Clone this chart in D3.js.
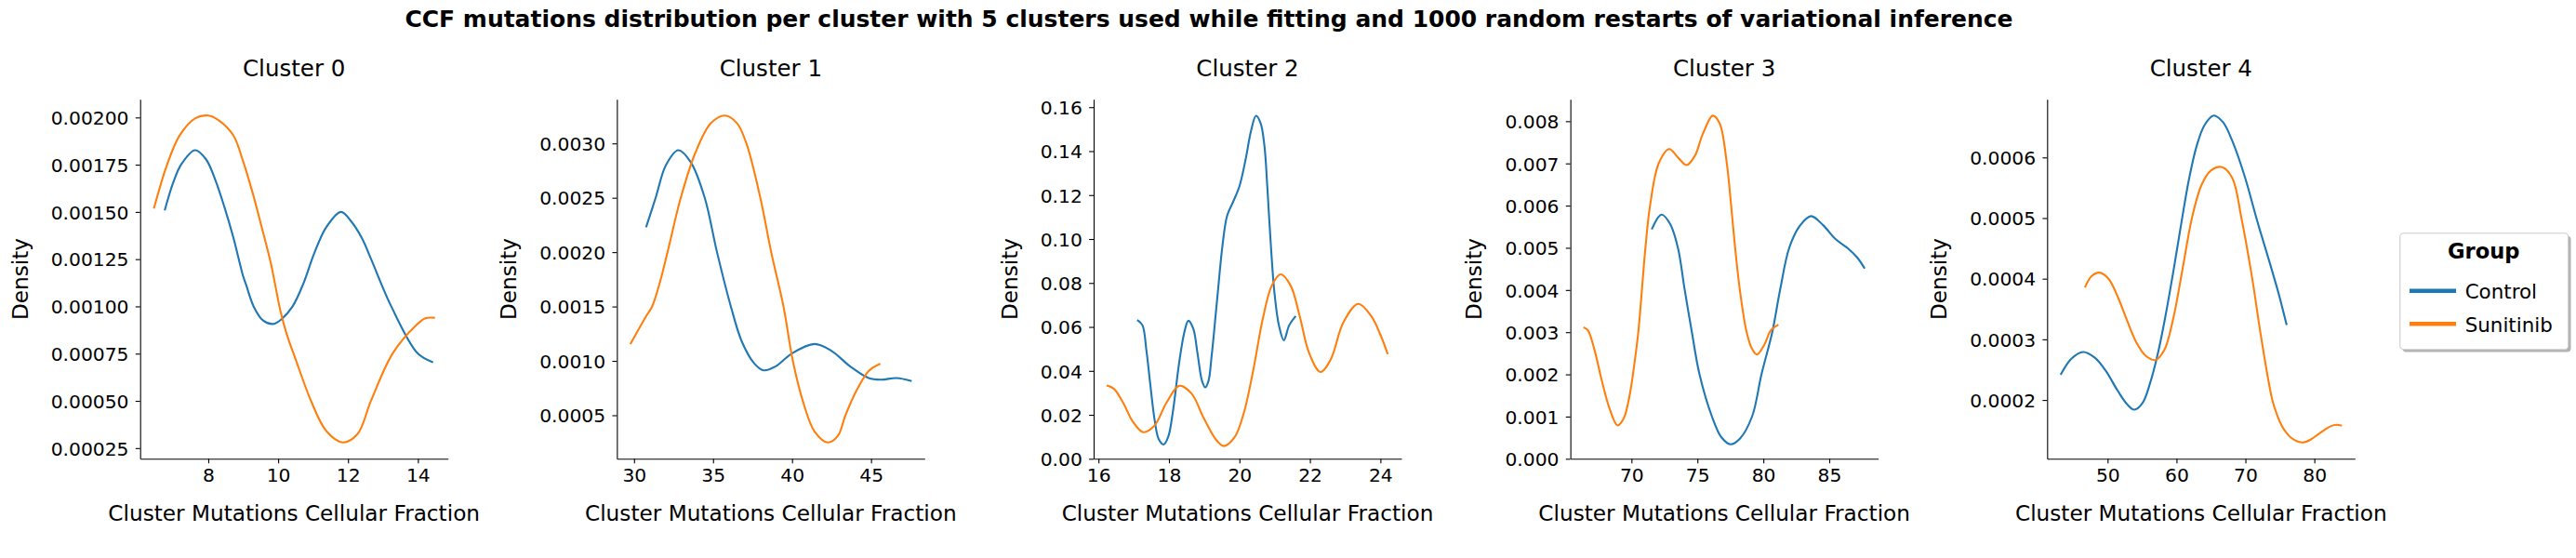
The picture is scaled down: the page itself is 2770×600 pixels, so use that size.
<!DOCTYPE html>
<html>
<head>
<meta charset="utf-8">
<script src="https://cdn.jsdelivr.net/npm/d3@7/dist/d3.min.js"></script>
<style>
  body { margin: 0; background: #ffffff; }
  svg { display: block; }
</style>
</head>
<body>
<svg id="chart" width="2770" height="600"></svg>
<script>
// ---------------- DATA ----------------
const suptitle = "CCF mutations distribution per cluster with 5 clusters used while fitting and 1000 random restarts of variational inference";
const clusterNames = ["Cluster 0", "Cluster 1", "Cluster 2", "Cluster 3", "Cluster 4"];
const groups = ["Control", "Sunitinib"];
const groupColors = ["#1f77b4", "#ff7f0e"];
const xLabel = "Cluster Mutations Cellular Fraction";
const yLabel = "Density";
const legendTitle = "Group";

// KDE curves: [CCF, density]
const cluster0Control = [[6.76,0.001513],[7.0,0.001657],[7.22,0.00175],[7.62,0.001827],[7.93,0.00178],[8.19,0.001675],[8.46,0.001527],[8.72,0.001363],[8.99,0.001165],[9.08,0.001116],[9.30,0.000999],[9.57,0.000925],[9.86,0.000907],[10.10,0.000933],[10.41,0.000999],[10.72,0.00112],[11.03,0.00128],[11.38,0.00142],[11.80,0.0015],[12.09,0.00145],[12.40,0.00136],[12.66,0.00125],[13.24,0.000999],[13.99,0.000752],[14.41,0.000706]];
const cluster0Sunitinib = [[6.45,0.001523],[6.82,0.00175],[7.18,0.001905],[7.62,0.001995],[8.0,0.00201],[8.30,0.001985],[8.72,0.001904],[8.99,0.001772],[9.26,0.001607],[9.52,0.001426],[9.79,0.001229],[9.92,0.00111],[10.06,0.00098],[10.25,0.00085],[10.50,0.00072],[10.94,0.0005],[11.38,0.00034],[11.85,0.00028],[12.27,0.000324],[12.66,0.000502],[13.28,0.000752],[13.95,0.0009],[14.21,0.000937],[14.46,0.00094]];

const cluster1Control = [[30.78,0.002237],[31.37,0.002501],[32.02,0.0028],[32.80,0.002937],[33.58,0.002829],[34.47,0.002501],[35.25,0.002],[36.13,0.001499],[36.82,0.001178],[37.60,0.000978],[38.19,0.000913],[38.97,0.00095],[39.95,0.001064],[41.42,0.001155],[42.50,0.001092],[43.67,0.00095],[44.85,0.000842],[45.63,0.000827],[46.61,0.000842],[47.51,0.000816]];
const cluster1Sunitinib = [[29.80,0.001163],[30.74,0.001405],[31.14,0.001499],[31.63,0.001719],[32.12,0.002],[32.96,0.002501],[33.88,0.002914],[34.86,0.003185],[35.74,0.003256],[36.52,0.003185],[37.11,0.0030],[37.99,0.002501],[38.68,0.002],[39.46,0.001499],[40.05,0.001001],[40.73,0.000608],[41.42,0.000352],[42.26,0.00025],[42.89,0.000309],[43.38,0.0005],[44.06,0.000722],[44.85,0.000907],[45.53,0.00097]];

const cluster2Control = [[17.12,0.0629],[17.25,0.0607],[17.36,0.0494],[17.48,0.0325],[17.60,0.017],[17.71,0.0089],[17.85,0.0065],[17.98,0.010],[18.11,0.0212],[18.29,0.0438],[18.44,0.0578],[18.55,0.0628],[18.69,0.0592],[18.81,0.048],[18.94,0.0353],[19.03,0.0325],[19.12,0.0353],[19.21,0.0466],[19.38,0.0747],[19.52,0.0972],[19.65,0.1106],[19.82,0.1169],[20.0,0.124],[20.18,0.1366],[20.33,0.1493],[20.47,0.1561],[20.60,0.1528],[20.71,0.1423],[20.79,0.124],[20.88,0.1001],[20.99,0.0761],[21.12,0.0607],[21.26,0.0539],[21.41,0.0607],[21.58,0.0646]];
const cluster2Sunitinib = [[16.26,0.0332],[16.44,0.0318],[16.70,0.0255],[16.97,0.017],[17.27,0.0121],[17.58,0.0149],[17.93,0.0255],[18.29,0.0332],[18.64,0.0297],[18.99,0.0184],[19.34,0.0086],[19.56,0.0058],[19.87,0.010],[20.13,0.0212],[20.40,0.041],[20.66,0.0635],[20.92,0.0789],[21.17,0.0839],[21.45,0.0789],[21.71,0.0649],[21.98,0.048],[22.30,0.0395],[22.59,0.0452],[22.95,0.0621],[23.37,0.0705],[23.74,0.0649],[24.00,0.0564],[24.20,0.048]];

const cluster3Control = [[71.57,0.005458],[72.28,0.005788],[72.93,0.005568],[73.52,0.005004],[74.04,0.004],[74.58,0.003004],[75.16,0.002],[76.10,0.001004],[76.81,0.000513],[77.51,0.000344],[78.22,0.000476],[79.15,0.001004],[79.86,0.002],[80.68,0.003004],[81.27,0.004],[81.97,0.005004],[82.79,0.005531],[83.62,0.005751],[84.55,0.005531],[85.49,0.005201],[86.43,0.004982],[87.14,0.004762],[87.65,0.004527]];
const cluster3Sunitinib = [[66.43,0.003106],[66.71,0.00304],[67.18,0.0026],[67.77,0.001832],[68.36,0.001172],[68.94,0.000791],[69.41,0.000952],[69.88,0.001538],[70.23,0.002271],[70.52,0.003004],[71.06,0.005004],[71.41,0.006],[72.07,0.007004],[72.86,0.00734],[73.52,0.007143],[74.18,0.00696],[74.81,0.00718],[75.40,0.007692],[76.17,0.008132],[76.69,0.007949],[77.23,0.007004],[77.56,0.006],[77.86,0.005004],[78.22,0.004],[78.73,0.003004],[79.15,0.0026],[79.51,0.002469],[80.09,0.002711],[80.56,0.00304],[81.08,0.003165]];

const cluster4Control = [[43.26,0.000243],[44.75,0.000268],[46.45,0.000279],[48.11,0.00027],[49.69,0.000249],[51.48,0.000215],[52.83,0.000193],[53.86,0.000184],[55.07,0.000195],[56.20,0.000229],[57.32,0.000278],[58.44,0.000341],[59.56,0.000413],[60.69,0.000491],[61.81,0.000564],[62.93,0.000619],[64.05,0.000653],[65.40,0.000669],[66.75,0.000658],[68.10,0.000627],[69.89,0.000569],[71.69,0.000496],[73.48,0.000428],[74.83,0.000375],[75.95,0.000325]];
const cluster4Sunitinib = [[46.77,0.000387],[47.67,0.000404],[48.79,0.00041],[50.13,0.0004],[51.48,0.00037],[52.83,0.000331],[54.18,0.000295],[55.52,0.000273],[56.96,0.000266],[58.22,0.000282],[59.56,0.000336],[60.91,0.000418],[62.26,0.000501],[63.61,0.000554],[64.95,0.000578],[66.61,0.000584],[68.10,0.000566],[69.42,0.0005],[70.99,0.0004],[72.33,0.0003],[73.90,0.0002],[74.60,0.000175],[75.25,0.000158],[76.0,0.000145],[76.59,0.000138],[77.50,0.000132],[78.39,0.00013],[79.50,0.000135],[80.63,0.000144],[81.50,0.000151],[82.42,0.000157],[83.20,0.000159],[83.86,0.000158]];

// tick values and labels
const xTicks0 = [8, 10, 12, 14];
const xTicks1 = [30, 35, 40, 45];
const xTicks2 = [16, 18, 20, 22, 24];
const xTicks3 = [70, 75, 80, 85];
const xTicks4 = [50, 60, 70, 80];
const yTicks0 = [0.00025, 0.0005, 0.00075, 0.001, 0.00125, 0.0015, 0.00175, 0.002];
const yTickLabels0 = ["0.00025", "0.00050", "0.00075", "0.00100", "0.00125", "0.00150", "0.00175", "0.00200"];
const yTicks1 = [0.0005, 0.001, 0.0015, 0.002, 0.0025, 0.003];
const yTickLabels1 = ["0.0005", "0.0010", "0.0015", "0.0020", "0.0025", "0.0030"];
const yTicks2 = [0, 0.02, 0.04, 0.06, 0.08, 0.10, 0.12, 0.14, 0.16];
const yTickLabels2 = ["0.00", "0.02", "0.04", "0.06", "0.08", "0.10", "0.12", "0.14", "0.16"];
const yTicks3 = [0, 0.001, 0.002, 0.003, 0.004, 0.005, 0.006, 0.007, 0.008];
const yTickLabels3 = ["0.000", "0.001", "0.002", "0.003", "0.004", "0.005", "0.006", "0.007", "0.008"];
const yTicks4 = [0.0002, 0.0003, 0.0004, 0.0005, 0.0006];
const yTickLabels4 = ["0.0002", "0.0003", "0.0004", "0.0005", "0.0006"];

// ---------------- LAYOUT ----------------
const FONT = "'DejaVu Sans', Verdana, sans-serif";
const panelLeft0 = 150.7, panelStep = 512.65, panelW = 331;
const panelTop = 106.7, panelH = 386.6;
const tickFont = 20.3, labelFont = 23.2, titleFont = 24.5;

const panels = [
  { name: clusterNames[0], series: [cluster0Control, cluster0Sunitinib], xt: xTicks0, yt: yTicks0, yl: yTickLabels0 },
  { name: clusterNames[1], series: [cluster1Control, cluster1Sunitinib], xt: xTicks1, yt: yTicks1, yl: yTickLabels1 },
  { name: clusterNames[2], series: [cluster2Control, cluster2Sunitinib], xt: xTicks2, yt: yTicks2, yl: yTickLabels2 },
  { name: clusterNames[3], series: [cluster3Control, cluster3Sunitinib], xt: xTicks3, yt: yTicks3, yl: yTickLabels3 },
  { name: clusterNames[4], series: [cluster4Control, cluster4Sunitinib], xt: xTicks4, yt: yTicks4, yl: yTickLabels4 }
];

const svg = d3.select("#chart");
svg.append("rect").attr("width", 2770).attr("height", 600).attr("fill", "#fff");

// suptitle, scaled to the measured width
const sup = svg.append("text")
  .attr("x", 1300).attr("y", 29)
  .attr("text-anchor", "middle")
  .attr("font-family", FONT).attr("font-weight", "bold")
  .attr("font-size", 22).attr("fill", "#000")
  .text(suptitle);
const supLen = sup.node().getComputedTextLength();
sup.attr("font-size", 22 * 1730 / supLen);

panels.forEach((p, i) => {
  const left = panelLeft0 + panelStep * i;
  const all = p.series.flat();
  const [xmin, xmax] = d3.extent(all, d => d[0]);
  const [ymin, ymax] = d3.extent(all, d => d[1]);
  const xpad = (xmax - xmin) * 0.05, ypad = (ymax - ymin) * 0.05;
  const x = d3.scaleLinear().domain([xmin - xpad, xmax + xpad]).range([left, left + panelW]);
  const y = d3.scaleLinear().domain([Math.max(0, ymin - ypad), ymax + ypad]).range([panelTop + panelH, panelTop]);

  const g = svg.append("g");

  // curves
  const line = d3.line().x(d => x(d[0])).y(d => y(d[1])).curve(d3.curveCatmullRom.alpha(0.5));
  p.series.forEach((s, k) => {
    g.append("path").datum(s)
      .attr("d", line)
      .attr("fill", "none")
      .attr("stroke", groupColors[k])
      .attr("stroke-width", 2.1)
      .attr("stroke-linejoin", "round")
      .attr("stroke-linecap", "square");
  });

  // x axis
  const gx = g.append("g").attr("transform", `translate(0,${panelTop + panelH})`)
    .call(d3.axisBottom(x).tickValues(p.xt).tickFormat(d3.format("d")).tickSize(4.9).tickSizeOuter(0));
  gx.selectAll("text").attr("y", 24.5).attr("dy", null)
    .attr("font-family", FONT).attr("font-size", tickFont).attr("fill", "#000");

  // y axis
  const gy = g.append("g").attr("transform", `translate(${left},0)`)
    .call(d3.axisLeft(y).tickValues(p.yt).tickFormat((d, j) => p.yl[j]).tickSize(4.9).tickSizeOuter(0));
  gy.selectAll("text").attr("x", -12.2).attr("dy", null)
    .attr("transform", "translate(0,7.3)")
    .attr("font-family", FONT).attr("font-size", tickFont).attr("fill", "#000");

  [gx, gy].forEach(a => {
    a.select(".domain").attr("stroke", "#000").attr("stroke-width", 1.1);
    a.selectAll(".tick line").attr("stroke", "#000").attr("stroke-width", 1.1);
    a.attr("font-family", FONT);
  });

  // y label placed relative to the widest tick label
  const minX = d3.min(gy.selectAll("text").nodes(), n => n.getBBox().x) + left;
  const cy = panelTop + panelH / 2;
  g.append("text")
    .attr("transform", `translate(${minX - 25},${cy}) rotate(-90)`)
    .attr("text-anchor", "middle")
    .attr("font-family", FONT).attr("font-size", labelFont).attr("fill", "#000")
    .text(yLabel);

  // x label
  g.append("text")
    .attr("x", left + panelW / 2).attr("y", 560)
    .attr("text-anchor", "middle")
    .attr("font-family", FONT).attr("font-size", labelFont).attr("fill", "#000")
    .text(xLabel);

  // title
  g.append("text")
    .attr("x", left + panelW / 2).attr("y", 82.3)
    .attr("text-anchor", "middle")
    .attr("font-family", FONT).attr("font-size", titleFont).attr("fill", "#000")
    .text(p.name);
});

// ---------------- LEGEND ----------------
const lg = svg.append("g");
const lx = 2580.7, ly = 250.7, lw = 181, lh = 125;
lg.append("rect").attr("x", lx + 2.8).attr("y", ly + 2.8).attr("width", lw).attr("height", lh)
  .attr("rx", 4).attr("fill", "#7f7f7f").attr("opacity", 0.6);
lg.append("rect").attr("x", lx).attr("y", ly).attr("width", lw).attr("height", lh)
  .attr("rx", 4).attr("fill", "#fff").attr("stroke", "#cccccc").attr("stroke-width", 1.1);
lg.append("text").attr("x", lx + lw / 2 - 0.5).attr("y", ly + 27)
  .attr("text-anchor", "middle")
  .attr("font-family", FONT).attr("font-weight", "bold").attr("font-size", 22.6).attr("fill", "#000")
  .text(legendTitle);
groups.forEach((gname, k) => {
  const yy = ly + 62 + k * 35.6;
  lg.append("line").attr("x1", lx + 10.3).attr("x2", lx + 60.3).attr("y1", yy).attr("y2", yy)
    .attr("stroke", groupColors[k]).attr("stroke-width", 4.6);
  lg.append("text").attr("x", lx + 70).attr("y", yy + 8.3)
    .attr("font-family", FONT).attr("font-size", 21.4).attr("fill", "#000")
    .text(gname);
});
</script>
</body>
</html>
